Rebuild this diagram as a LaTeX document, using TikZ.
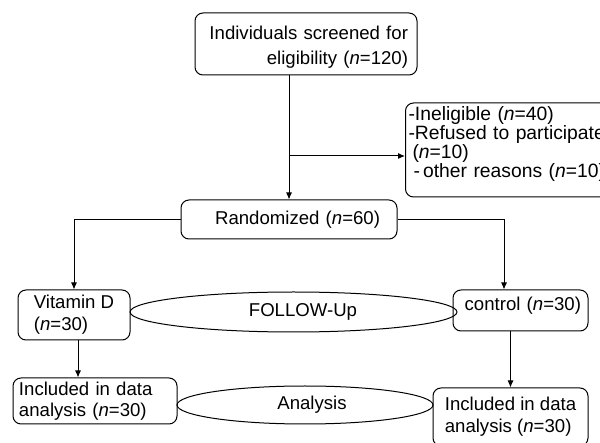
\documentclass[tikz,border=0pt]{standalone}
\usepackage{fontspec}
\setmainfont{Liberation Sans}
\usetikzlibrary{arrows.meta,shapes.geometric}
\begin{document}
\begin{tikzpicture}[x=1pt,y=-1pt,
  box/.style={draw, rounded corners=8pt, line width=1pt, inner ysep=0pt,
    font=\fontsize{18.6}{22}\selectfont},
  oval/.style={draw, ellipse, line width=1pt, inner sep=0pt,
    font=\fontsize{18.6}{22}\selectfont},
  arr/.style={-{Latex[length=7pt,width=6pt]}, line width=1pt}]
\useasboundingbox (0,0) rectangle (600,443);
\clip (0,0) rectangle (600,443);

\node[box, align=right, text width=204pt, inner xsep=9pt, minimum height=62pt,
  text height=20.5pt, font=\fontsize{18.6}{25}\selectfont] (screen) at (306,44)
  {Individuals screened for\\eligibility (\textit{n}=120)};

\node[box, align=left, anchor=west, text width=230pt, inner xsep=3pt,
  minimum height=94pt, text depth=73pt, font=\fontsize{19.3}{19}\selectfont] (excl) at (405,150)
  {-Ineligible (\textit{n}=40)\\-Refused to participate\\\hspace*{4pt}(\textit{n}=10)\\\hspace*{5pt}-\,other reasons (\textit{n}=10)};

\node[box, align=right, text width=182pt, inner xsep=17pt, minimum height=39pt]
  (rand) at (289,219.5) {Randomized (\textit{n}=60)};

\node[box, align=left, minimum width=112pt, minimum height=50pt]
  (vitd) at (74,315) {Vitamin D\\(\textit{n}=30)};

\node[box, align=right, text width=121pt, inner xsep=7pt, minimum height=41pt,
  text depth=14pt] (ctrl) at (520.5,310.5) {control (\textit{n}=30)};

\node[box, align=left, text width=152pt, inner xsep=6pt, minimum height=46pt,
  font=\fontsize{18.6}{21}\selectfont] (inc1) at (95,401)
  {Included in data\\analysis (\textit{n}=30)};

\node[box, align=left, minimum width=155pt, minimum height=58pt]
  (inc2) at (510.5,417) {Included in data\\analysis (\textit{n}=30)};

\node[oval, minimum width=327pt, minimum height=40pt] (fu) at (293.5,312)
  {\hspace*{19pt}FOLLOW-Up};
\node[oval, minimum width=256pt, minimum height=38pt] (an) at (305,405)
  {\hspace*{14pt}Analysis};

\draw[arr] (rand.north |- screen.south) -- (rand.north);
\coordinate (br) at (289,156);
\draw[arr] (br) -- (br -| excl.west);
\draw[arr] (rand.west) -| (vitd.north);
\draw[arr] (rand.east) -| ([xshift=-16.5pt]ctrl.north);
\draw[arr] ([xshift=4pt]vitd.south) -- ([xshift=4pt]vitd.south |- inc1.north);
\draw[arr] ([xshift=-10pt]ctrl.south) -- (inc2.north);
\end{tikzpicture}
\end{document}
